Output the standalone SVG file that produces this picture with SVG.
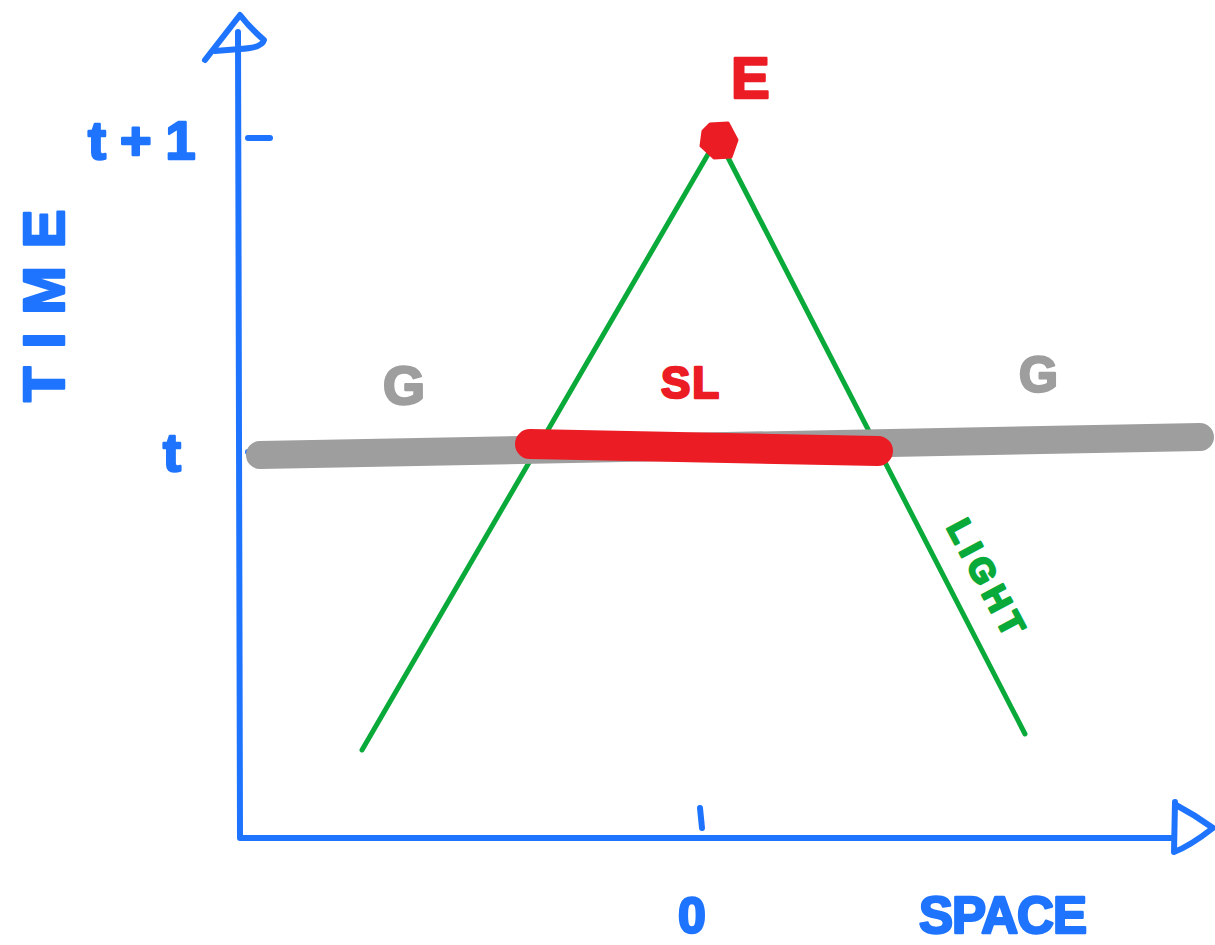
<svg xmlns="http://www.w3.org/2000/svg" width="1215" height="945" viewBox="0 0 1215 945">
<style>
.ax{fill:none;stroke:#1f74ff;stroke-width:6;stroke-linecap:round;stroke-linejoin:round}
.lt{fill:none;stroke:#0aaa3a;stroke-width:5;stroke-linecap:round}
.lbl{font-family:"Liberation Sans",Arial,sans-serif;font-weight:bold;stroke-width:2.5;stroke-linejoin:round;paint-order:stroke}
.b{fill:#1f74ff;stroke:#1f74ff}
.r{fill:#ec1c24;stroke:#ec1c24}
.g{fill:#9e9e9e;stroke:#9e9e9e}
.gr{fill:#0aaa3a;stroke:#0aaa3a}
</style>
<rect width="1215" height="945" fill="#fff"/>
<g id="axes">
<path class="ax" d="M238,32 L240,838 L1172,838"/>
<path class="ax" d="M205,60 L240,15 Q250,28 264,40 Q262,48 240,49 L215,51"/>
<path class="ax" d="M1175,802 L1174,852 Q1190,846 1213,828 Q1195,815 1176,805"/>
<path class="ax" d="M248,138 L270,138"/>
<path class="ax" d="M248,452 L270,452"/>
<path class="ax" d="M700,808 L702,828"/>
</g>
<g id="connectors">
<line class="lt" x1="362" y1="750" x2="714" y2="144"/>
<line class="lt" x1="721" y1="144" x2="1025" y2="734"/>
</g>
<g id="gray-bar">
<line x1="260" y1="455" x2="1200" y2="437" stroke="#9e9e9e" stroke-width="28" stroke-linecap="round"/>
</g>
<g id="sl-bar">
<line x1="530" y1="444" x2="878" y2="451" stroke="#ec1c24" stroke-width="30" stroke-linecap="round"/>
</g>
<g id="event">
<polygon points="710,124 728,123 737,140 731,157 714,158 701,146 703,131" fill="#ec1c24" stroke="#ec1c24" stroke-width="3" stroke-linejoin="round"/>
</g>
<g id="labels">
<text class="lbl b" x="88" y="159" font-size="54" letter-spacing="14">t+1</text>
<text class="lbl b" x="163" y="471" font-size="54">t</text>
<text class="lbl b" transform="translate(64,402) rotate(-90)" font-size="58" letter-spacing="18">TIME</text>
<text class="lbl r" x="731" y="98" font-size="58">E</text>
<text class="lbl g" x="383" y="404" font-size="54">G</text>
<text class="lbl g" x="1019" y="392" font-size="50">G</text>
<text class="lbl r" x="661" y="398" font-size="44" letter-spacing="2">SL</text>
<text class="lbl gr" transform="translate(946,527) rotate(62)" font-size="34" letter-spacing="6">LIGHT</text>
<text class="lbl b" x="678" y="933" font-size="50">0</text>
<text class="lbl b" x="919" y="933" font-size="51" letter-spacing="-1">SPACE</text>
</g>
</svg>
